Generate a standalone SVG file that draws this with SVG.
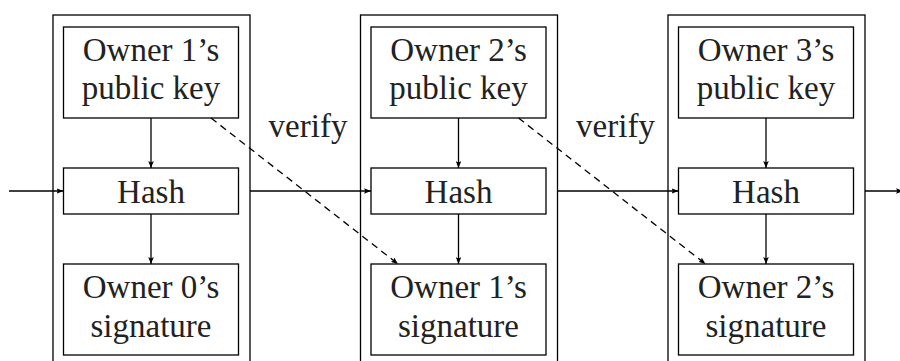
<svg xmlns="http://www.w3.org/2000/svg" width="900" height="361" viewBox="0 0 900 361">
<defs>
<style>
.box{fill:none;stroke:#000;stroke-width:1.3}
.ln{fill:none;stroke:#000;stroke-width:1.3;marker-end:url(#ah)}
.dash{fill:none;stroke:#000;stroke-width:1.3;stroke-dasharray:7,5;marker-end:url(#ah)}
</style>
<marker id="ah" viewBox="0 0 10 8" refX="10" refY="4" markerWidth="7" markerHeight="5.6" markerUnits="userSpaceOnUse" orient="auto">
<path d="M0,0 L10,4 L0,8 L2,4 Z" fill="#000"/>
</marker>
</defs>
<rect width="900" height="361" fill="#fff"/>
<g font-family="Liberation Serif" font-size="33" text-anchor="middle" fill="#222">
<g id="block1">
<rect class="box" x="53" y="15" width="197" height="360"/>
<g id="pk1"><rect class="box" x="63.5" y="27" width="175" height="91"/><text x="151" y="61">Owner 1’s</text><text x="151" y="99">public key</text></g>
<g id="hash1"><rect class="box" x="63.5" y="168" width="175" height="46"/><text x="151" y="203">Hash</text></g>
<g id="sig1"><rect class="box" x="63.5" y="264" width="175" height="91"/><text x="151" y="298">Owner 0’s</text><text x="151" y="337">signature</text></g>
</g>
<g id="block2">
<rect class="box" x="360.5" y="15" width="197" height="360"/>
<g id="pk2"><rect class="box" x="371" y="27" width="175" height="91"/><text x="458.5" y="61">Owner 2’s</text><text x="458.5" y="99">public key</text></g>
<g id="hash2"><rect class="box" x="371" y="168" width="175" height="46"/><text x="458.5" y="203">Hash</text></g>
<g id="sig2"><rect class="box" x="371" y="264" width="175" height="91"/><text x="458.5" y="298">Owner 1’s</text><text x="458.5" y="337">signature</text></g>
</g>
<g id="block3">
<rect class="box" x="668" y="15" width="197" height="360"/>
<g id="pk3"><rect class="box" x="678.5" y="27" width="175" height="91"/><text x="766" y="61">Owner 3’s</text><text x="766" y="99">public key</text></g>
<g id="hash3"><rect class="box" x="678.5" y="168" width="175" height="46"/><text x="766" y="203">Hash</text></g>
<g id="sig3"><rect class="box" x="678.5" y="264" width="175" height="91"/><text x="766" y="298">Owner 2’s</text><text x="766" y="337">signature</text></g>
</g>
<g id="labels">
<text x="308" y="137">verify</text>
<text x="615.5" y="137">verify</text>
</g>
</g>
<g id="connectors">
<line class="ln" x1="151" y1="118" x2="151" y2="168"/>
<line class="ln" x1="151" y1="214" x2="151" y2="264"/>
<line class="ln" x1="458.5" y1="118" x2="458.5" y2="168"/>
<line class="ln" x1="458.5" y1="214" x2="458.5" y2="264"/>
<line class="ln" x1="766" y1="118" x2="766" y2="168"/>
<line class="ln" x1="766" y1="214" x2="766" y2="264"/>
<line class="ln" x1="9" y1="191" x2="63.5" y2="191"/>
<line class="ln" x1="250" y1="191" x2="371" y2="191"/>
<line class="ln" x1="557.5" y1="191" x2="678.5" y2="191"/>
<line class="ln" x1="865" y1="191" x2="903" y2="191"/>
<line class="dash" x1="211" y1="118" x2="398" y2="264"/>
<line class="dash" x1="518.5" y1="118" x2="705.5" y2="264"/>
</g>
</svg>
